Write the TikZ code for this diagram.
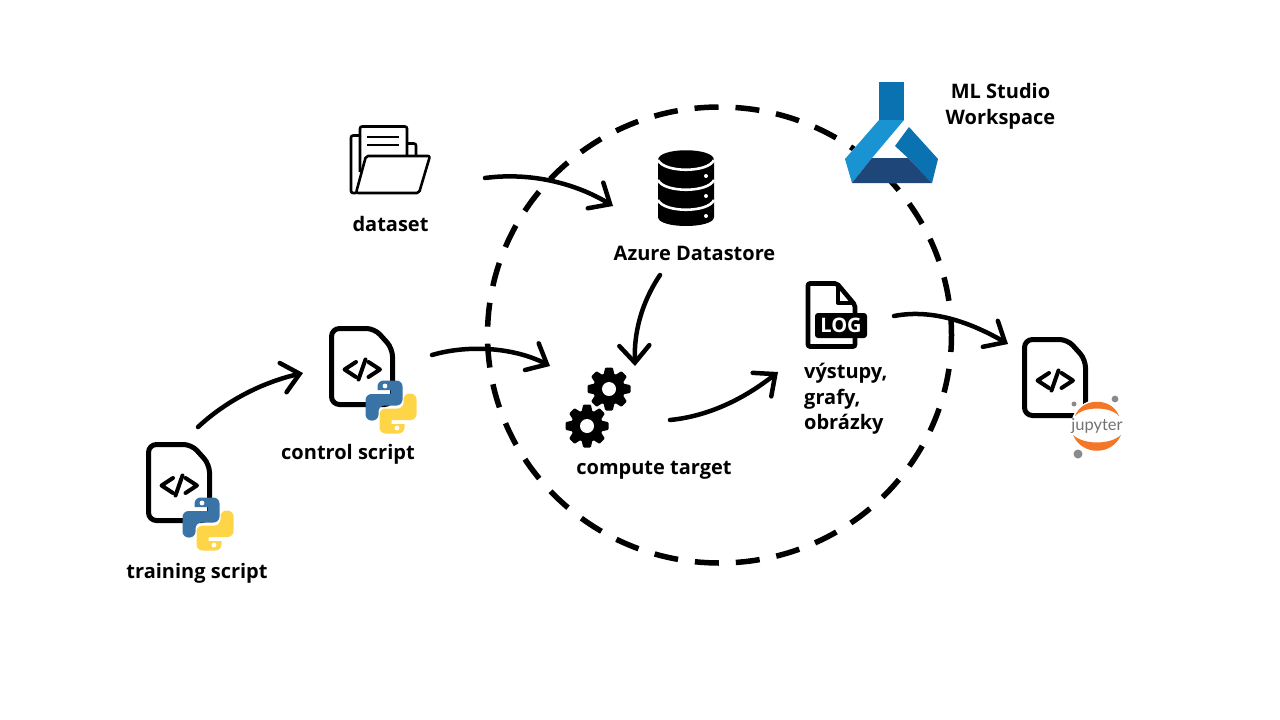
\documentclass[tikz,border=0pt]{standalone}
\usepackage{fontspec}
\setmainfont{Open Sans}
\newfontfamily\jupfont{Lato}
\usetikzlibrary{arrows.meta,positioning}
\definecolor{pyblue}{HTML}{3A73A5}
\definecolor{pyyellow}{HTML}{FFD548}
\definecolor{flaskneck}{HTML}{0A72B0}
\definecolor{flasklight}{HTML}{1A93D2}
\definecolor{flaskdark}{HTML}{1E4679}
\definecolor{juporange}{HTML}{F37726}
\definecolor{jupgray}{HTML}{8A8A8A}
\tikzset{
  flow/.style={line width=4.5pt, line cap=round, -{Straight Barb[length=17pt,width=30pt,line cap=round]}},
  label/.style={font=\bfseries\fontsize{20}{25.7}\selectfont, inner sep=0pt, align=center},
  ring/.style={line width=5.5pt, dash pattern=on 24pt off 17pt, dash phase=7pt},
  codeline/.style={line width=4pt, line cap=round, line join=round},
  folderline/.style={line width=2.6pt, line join=round, rounded corners=2pt},
  docfile/.pic={
    \draw[line width=5pt, rounded corners=8pt] (0,0) -- (43,0) -- (61,20) -- (61,76) -- (0,76) -- cycle;
    \draw[codeline] (24.5,33.5) -- (13,41) -- (24.5,48.5);
    \draw[codeline] (34,31) -- (27,51);
    \draw[codeline] (37,33.5) -- (48.5,41) -- (37,48.5);
  },
  pylogo/.pic={
    \fill[pyblue, rounded corners=6pt] (-13.5,-26.5) -- (11.5,-26.5) -- (11.5,-1.5) -- (-12.5,-1.5) -- (-12.5,13.5)
      -- (-25.5,13.5) -- (-25.5,-13) [sharp corners] -- (-0.5,-13) -- (-0.5,-17) -- (-13.5,-17) [rounded corners=6pt] -- cycle;
    \fill[pyyellow, rounded corners=6pt] (13.5,26.5) -- (-11.5,26.5) -- (-11.5,1.5) -- (12.5,1.5) -- (12.5,-13.5)
      -- (25.5,-13.5) -- (25.5,13) [sharp corners] -- (0.5,13) -- (0.5,17) -- (13.5,17) [rounded corners=6pt] -- cycle;
    \fill[white] (-6,-21) circle (2.4pt) (6,21) circle (2.4pt);
  },
  cog/.pic={
    \fill circle (16pt);
    \foreach \a in {0,45,...,315}
      \fill[rotate=\a, rounded corners=1pt] (-5.5,-14) -- (-3.8,-21.5) -- (3.8,-21.5) -- (5.5,-14) -- cycle;
    \fill[white] circle (7pt);
  }
}
\begin{document}
\begin{tikzpicture}[x=1pt,y=-1pt]
    \useasboundingbox (0,0) rectangle (1280,720);
    \fill[white] (0,0) rectangle (1280,720);
    % Workspace boundary
    \draw[ring] (719.5,335) ellipse [x radius=232, y radius=228];
    % Script files
    \pic at (148.5,444.5) {docfile};
    \pic at (208,524) {pylogo};
    \pic at (331.5,328.5) {docfile};
    \pic at (391,407) {pylogo};
    \pic at (1024.5,339.5) {docfile};
    % Jupyter badge
    \fill[white] (1097,426) circle (26pt);
    \fill[juporange] (1075,416) .. controls (1082,397) and (1112,397) .. (1119,416) .. controls (1110,406) and (1084,406) .. cycle;
    \fill[juporange] (1073,435) .. controls (1082,456) and (1112,456) .. (1121,435) .. controls (1110,445) and (1084,445) .. cycle;
    \fill[jupgray] (1115,399) circle (3.4pt) (1074,404) circle (2.5pt) (1078,454) circle (4.5pt);
    \node (jupytertext) at (1097,425.5) [text=black!55, inner sep=0pt, font=\jupfont\fontsize{16.5}{17}\selectfont] {jupyter};
    % Dataset folder
    \draw[folderline, fill=white] (360,172) -- (360,126.5) -- (407,126.5) -- (407,156);
    \draw[line width=2.6pt] (367,137) -- (399,137) (367,145) -- (399,145);
    \draw[folderline] (360,135.5) -- (351,135.5) -- (351,193) -- (356,193);
    \draw[folderline] (407,143.5) -- (416,143.5) -- (416,156);
    \draw[folderline] (366,156) -- (430,156) -- (419,193) -- (356,193) -- cycle;
    % Datastore cylinder
    \fill (658,160) .. controls (658,147) and (714,147) .. (714,160) -- (714,217)
          .. controls (714,229) and (658,229) .. (658,217) -- cycle;
    \foreach \y in {160,180,200}
      \draw[white, line width=2.6pt] (658,\y) .. controls (664,\y+13) and (708,\y+13) .. (714,\y);
    \fill[white] (706,176) circle (2pt) (706,196) circle (2pt) (706,216) circle (2pt);
    % Compute gears
    \pic at (609,389) {cog};
    \pic at (587,426) {cog};
    % Log file
    \draw[line width=4.6pt, rounded corners=2pt] (837,283.5) -- (808,283.5) -- (808,346.5) -- (855,346.5) -- (855,305) -- cycle;
    \draw[line width=4pt, line join=round] (838,285) -- (838,303) -- (855,303);
    \fill[rounded corners=3pt] (815,313) rectangle (867,338);
    \node (logtext) at (841,325.5) [text=white, inner sep=0pt, font=\bfseries\fontsize{20}{20}\selectfont] {LOG};
    % Flask logo
    \fill[white] (879,82) -- (904,82) -- (904,120) -- (938,159) -- (932,183) -- (852,183) -- (845,159) -- (879,120) -- cycle;
    \fill[flaskneck] (879,82) rectangle (904,120);
    \fill[flasklight] (879,120) -- (845,159) -- (852,183) -- (872,158) -- (904,120) -- cycle;
    \fill[flaskneck] (909,127) -- (938,159) -- (932,183) -- (908,158) -- (895,146) -- cycle;
    \fill[flaskdark] (872,158) -- (908,158) -- (932,183) -- (852,183) -- cycle;
    % Labels
    \node[label] (training) at (197,573) {training script};
    \node[label] (control) at (348,454) {control script};
    \node[label] (dataset) at (390.5,224) {dataset};
    \node[label] (datastore) at (694.5,253) {Azure Datastore};
    \node[label] (compute) at (654,470) {compute target};
    \node[label, align=left, anchor=north west] (outputs) at (804,363) {výstupy,\\grafy,\\obrázky};
    \node[label] (workspace) at (1000.5,106.5) {ML Studio\\Workspace};
    % Connector ends
    \coordinate (trainout) at (198,427);
    \coordinate (controlin) at (303,373);
    \coordinate (controlout) at (432,355);
    \coordinate (computein) at (550,366);
    \coordinate (dataout) at (485,178);
    \coordinate (storein) at (613,206);
    \coordinate (storeout) at (660,275);
    \coordinate (computetop) at (635,366);
    \coordinate (computeout) at (670,420);
    \coordinate (login) at (778,372);
    \coordinate (logout) at (894,316);
    \coordinate (jupin) at (1008,344);
    \draw[flow] (trainout) .. controls (225,402) and (260,383) .. (controlin);
    \draw[flow] (controlout) .. controls (470,344) and (515,348) .. (computein);
    \draw[flow] (dataout) .. controls (530,172) and (575,183) .. (storein);
    \draw[flow] (storeout) .. controls (640,305) and (634,335) .. (computetop);
    \draw[flow] (computeout) .. controls (710,416) and (745,398) .. (login);
    \draw[flow] (logout) .. controls (935,308) and (975,325) .. (jupin);
\end{tikzpicture}
\end{document}
